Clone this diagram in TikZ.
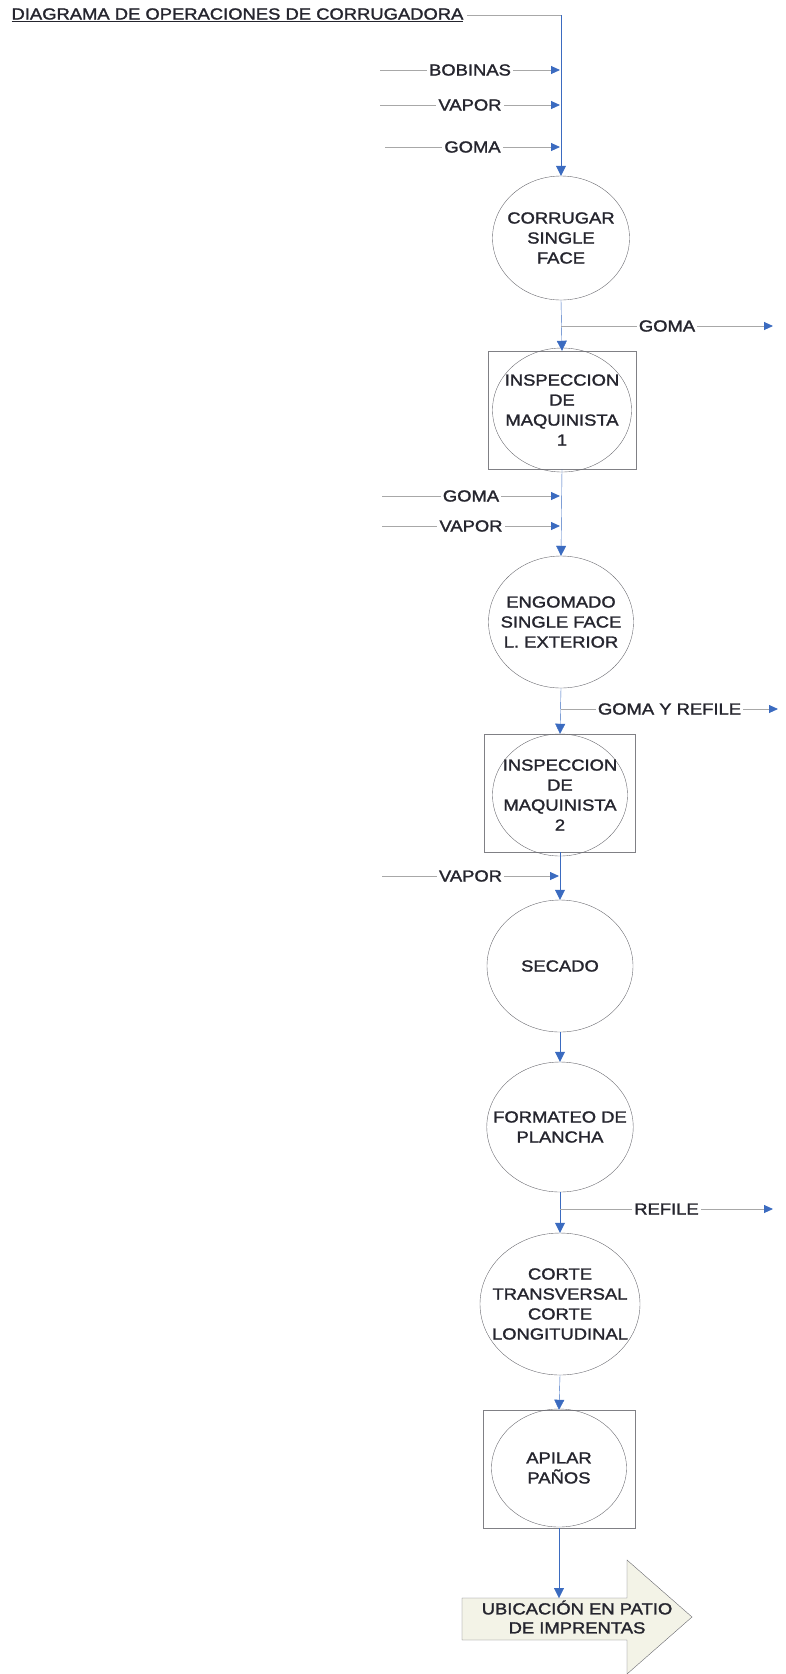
\documentclass[tikz,border=0pt]{standalone}
\usepackage{fontspec}
\setmainfont{Liberation Sans}[FakeStretch=1.15, FakeBold=1.6]
\usetikzlibrary{shapes.geometric, arrows.meta, positioning}
\definecolor{flowblue}{HTML}{3B6BC0}
\definecolor{feedgray}{HTML}{A8A8A8}
\definecolor{inkgray}{HTML}{25252E}
\definecolor{ringgray}{HTML}{6A6A70}
\definecolor{arrowfill}{HTML}{F3F3E7}
\tikzset{
x=1pt, y=-1pt, % one unit is one pixel of the page, y grows downwards
every node/.style={font=\fontsize{16}{20}\selectfont, text=inkgray, align=center},
oper/.style={ellipse, draw=ringgray, minimum width=146pt, minimum height=130pt, inner xsep=-15pt, inner ysep=0pt}, % operation circle
inspbox/.style={rectangle, draw=ringgray!85, minimum width=151pt, minimum height=118pt}, % inspection frame
flow/.style={flowblue, -{Triangle[length=10pt, width=10pt]}}, % main line
feed/.style={feedgray, line width=0.9pt}, % thin side lines
feedin/.style={feed, -{Triangle[length=9pt, width=8pt, color=flowblue]}},
tag/.style={fill=white, inner sep=2pt}, % text sitting on a side line
}
\begin{document}
\begin{tikzpicture}
    \useasboundingbox (0,0) rectangle (786,1674);

    \node[anchor=west] (title) at (8,15) {\underline{DIAGRAMA DE OPERACIONES DE CORRUGADORA}};
    \coordinate (corner) at (561,15);

    % inputs to the single face
    \coordinate (bob0) at (380,70);  \coordinate (bob1) at (560,70);
    \coordinate (vap0) at (380,105); \coordinate (vap1) at (560,105);
    \coordinate (gom0) at (385,147); \coordinate (gom1) at (560,147);

    \node[oper, minimum width=137pt, minimum height=124pt] (corr) at (561,238) {CORRUGAR\\SINGLE\\FACE};
    \node[inspbox, minimum width=148pt] (insp1) at (562,410) {};
    \node[oper, minimum width=139pt, minimum height=124pt] (insp1c) at (562,410) {INSPECCION\\DE\\MAQUINISTA\\1};
    \node[oper, minimum width=145pt, minimum height=132pt] (engo) at (561,622) {ENGOMADO\\SINGLE FACE\\L. EXTERIOR};
    \node[inspbox] (insp2) at (560,793) {};
    \node[oper, minimum width=135pt, minimum height=122pt] (insp2c) at (560,795) {INSPECCION\\DE\\MAQUINISTA\\2};
    \node[oper, minimum height=132pt] (sec) at (560,966) {SECADO};
    \node[oper] (form) at (560,1127) {FORMATEO DE\\PLANCHA};
    \node[oper, minimum width=160pt, minimum height=142pt] (corte) at (560,1304) {CORTE\\TRANSVERSAL\\CORTE\\LONGITUDINAL};
    \node[inspbox, minimum width=152pt] (apil) at (559,1469) {};
    \node[oper, minimum width=135pt, minimum height=118pt] (apilc) at (559,1468) {APILAR\\PAÑOS};

    % inputs and outputs along the line
    \coordinate (out1a) at (561,326);  \coordinate (out1b) at (773,326);
    \coordinate (gom2a) at (382,496);  \coordinate (gom2b) at (560,496);
    \coordinate (vap2a) at (382,526);  \coordinate (vap2b) at (560,526);
    \coordinate (out2a) at (561,709);  \coordinate (out2b) at (778,709);
    \coordinate (vap3a) at (382,876);  \coordinate (vap3b) at (559,876);
    \coordinate (out3a) at (560,1209); \coordinate (out3b) at (773,1209);
    \coordinate (dest) at (559,1598);

    % final destination arrow
    \draw[ringgray, fill=arrowfill] (462,1598) -- (627,1598) -- (627,1560) -- (692,1617)
        -- (627,1674) -- (627,1640) -- (462,1640) -- cycle;
    \node[font=\fontsize{16}{19}\selectfont] (ubic) at (577,1617) {UBICACIÓN EN PATIO\\DE IMPRENTAS};

    \draw[feed] (title.east) -- (corner);
    \draw[flow] (corner) -- (corr.north);
    \draw[flow] (corr.south) -- (insp1.north);
    \draw[flow] (insp1.south) -- (engo.north);
    \draw[flow] (engo.south) -- (insp2.north);
    \draw[flow] (insp2.south) -- (sec.north);
    \draw[flow] (sec.south) -- (form.north);
    \draw[flow] (form.south) -- (corte.north);
    \draw[flow] (corte.south) -- (apil.north);
    \draw[flow] (apil.south) -- (dest);

    \draw[feedin] (bob0) -- node[tag] (bobinas) {BOBINAS} (bob1);
    \draw[feedin] (vap0) -- node[tag] (vapor1) {VAPOR} (vap1);
    \draw[feedin] (gom0) -- node[tag] (goma1) {GOMA} (gom1);
    \draw[feedin] (out1a) -- node[tag] (goma2) {GOMA} (out1b);
    \draw[feedin] (gom2a) -- node[tag] (goma3) {GOMA} (gom2b);
    \draw[feedin] (vap2a) -- node[tag] (vapor2) {VAPOR} (vap2b);
    \draw[feedin] (out2a) -- node[tag] (gomarefile) {GOMA Y REFILE} (out2b);
    \draw[feedin] (vap3a) -- node[tag] (vapor3) {VAPOR} (vap3b);
    \draw[feedin] (out3a) -- node[tag] (refile) {REFILE} (out3b);
\end{tikzpicture}
\end{document}
